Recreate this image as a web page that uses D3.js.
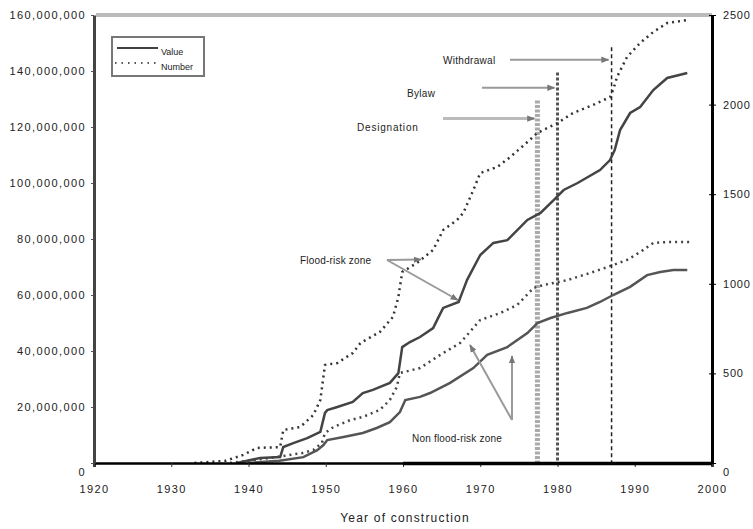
<!DOCTYPE html>
<html>
<head>
<meta charset="utf-8">
<script src="https://cdn.jsdelivr.net/npm/d3@7"></script>
<style>
  body { margin: 0; background: #fff; }
  text { font-family: "Liberation Sans", Arial, sans-serif; fill: #222; }
</style>
</head>
<body>
<script>
// flood-risk zone, number of buildings (right axis)
const floodNumYears = [1933, 1937, 1939.3, 1941.1, 1944.1, 1944.5, 1946.7, 1948.4, 1949.3, 1949.9, 1951.5, 1953.5, 1954.5, 1957, 1958.7, 1959.4, 1959.9, 1961.8, 1963.9, 1965.2, 1967, 1967.8, 1969.1, 1970, 1972.2, 1973.9, 1976.1, 1977.4, 1980, 1982, 1984.6, 1986.8, 1987.2, 1987.7, 1989, 1990.7, 1992.4, 1994.2, 1996.8];
const floodNum = [0, 12, 45, 84, 89, 184, 201, 268, 352, 547, 558, 614, 670, 731, 815, 926, 1066, 1116, 1189, 1300, 1356, 1395, 1523, 1618, 1652, 1708, 1791, 1842, 1897, 1953, 1998, 2042, 2081, 2154, 2266, 2344, 2405, 2455, 2472];

// flood-risk zone, value (left axis, millions)
const floodValYears = [1938.5, 1941.5, 1944.1, 1944.5, 1945.8, 1947.6, 1949.3, 1949.9, 1950.2, 1951.5, 1953.5, 1954.8, 1956.1, 1958.3, 1959.4, 1959.9, 1960.9, 1962.2, 1963.9, 1964.6, 1965.2, 1967.2, 1967.7, 1968.3, 1970, 1971.7, 1973.5, 1976.1, 1977.8, 1979.5, 1980.8, 1982.6, 1985.5, 1986.8, 1987.4, 1988.1, 1989.4, 1990.7, 1992.4, 1994.2, 1996.8];
const floodVal = [0, 1.8, 2.1, 5.7, 7.1, 8.9, 11.1, 17.9, 18.9, 20, 21.8, 25, 26.1, 28.6, 32.1, 41.4, 43.2, 45, 48.2, 52.1, 55.4, 57.5, 61.1, 65.4, 74.3, 78.6, 79.6, 86.8, 89.3, 93.9, 97.5, 100, 104.6, 108.2, 111.8, 118.9, 125, 127.1, 133.2, 137.5, 139.3];

// non flood-risk zone, number (right axis)
const nonNumYears = [1937.6, 1942.8, 1947, 1948.4, 1949.5, 1949.9, 1951, 1953.2, 1954.8, 1957, 1958.3, 1959.2, 1959.6, 1962.2, 1964.8, 1967.4, 1970, 1972.6, 1974.8, 1976.9, 1978.2, 1981.3, 1984.2, 1986.5, 1989, 1990.7, 1992.4, 1994.2, 1997.2];
const nonNum = [0, 28, 56, 73, 112, 167, 201, 240, 257, 296, 352, 424, 502, 530, 603, 670, 798, 837, 882, 977, 993, 1021, 1060, 1094, 1133, 1177, 1228, 1233, 1233];

// non flood-risk zone, value (left axis, millions)
const nonValYears = [1940, 1944, 1947.1, 1948.9, 1949.7, 1950.2, 1952.3, 1954.8, 1956.6, 1958.3, 1959.6, 1960.3, 1962.2, 1963.5, 1966.1, 1969.1, 1970.9, 1973.5, 1976.1, 1977.4, 1979.1, 1981.3, 1983.8, 1985.5, 1987.2, 1989.4, 1991.6, 1993.3, 1995, 1996.8];
const nonVal = [0, 0.8, 2.1, 4.6, 6.4, 8.2, 9.3, 10.7, 12.5, 14.6, 18.2, 22.5, 23.6, 25, 28.6, 33.9, 38.6, 41.4, 46.4, 50, 51.8, 53.6, 55.4, 57.5, 60, 62.9, 67.1, 68.2, 68.9, 68.9];

// policy events
const eventNames = ['Designation', 'Bylaw', 'Withdrawal'];
const eventYears = [1977.4, 1980, 1987];
const eventTops = [129.5, 139.5, 148.5];   // millions, where the vertical line starts
const eventLabelAt = [123, 134, 144];      // millions, height of the pointer

const xTicks = [1920, 1930, 1940, 1950, 1960, 1970, 1980, 1990, 2000];
const leftTicks = [0, 20e6, 40e6, 60e6, 80e6, 100e6, 120e6, 140e6, 160e6];
const rightTicks = [0, 500, 1000, 1500, 2000, 2500];

const width = 753, height = 529;
const svg = d3.select('body').append('svg')
  .attr('width', width)
  .attr('height', height);

const x = d3.scaleLinear().domain([1920, 2000]).range([94, 712]);
const yL = d3.scaleLinear().domain([0, 160e6]).range([463, 15]);
const yR = d3.scaleLinear().domain([0, 2500]).range([463, 15]);

const defs = svg.append('defs');
defs.append('marker')
  .attr('id', 'arrow')
  .attr('viewBox', '0 0 10 10')
  .attr('refX', 9).attr('refY', 5)
  .attr('markerUnits', 'userSpaceOnUse')
  .attr('markerWidth', 8).attr('markerHeight', 8)
  .attr('orient', 'auto')
  .append('path')
  .attr('d', 'M0,1L10,5L0,9Z')
  .attr('fill', '#777');

// top frame line
svg.append('line')
  .attr('x1', x(1920) + 2).attr('x2', x(2000))
  .attr('y1', yL(160e6)).attr('y2', yL(160e6))
  .attr('stroke', '#bbb').attr('stroke-width', 4);

// event lines
const evStyles = [
  { stroke: '#aaa', width: 5, dash: '3,1.5' },
  { stroke: '#555', width: 3, dash: '3,2' },
  { stroke: '#222', width: 1.5, dash: '4,3' }
];
eventYears.forEach((yr, i) => {
  svg.append('line')
    .attr('x1', x(yr)).attr('x2', x(yr))
    .attr('y1', yL(eventTops[i] * 1e6)).attr('y2', yL(0))
    .attr('stroke', evStyles[i].stroke)
    .attr('stroke-width', evStyles[i].width)
    .attr('stroke-dasharray', evStyles[i].dash);
});

// series
const lineL = d3.line().x(d => x(d[0])).y(d => yL(d[1] * 1e6));
const lineR = d3.line().x(d => x(d[0])).y(d => yR(d[1]));

const zip = (a, b) => a.map((v, i) => [v, b[i]]);

svg.append('path').datum(zip(nonValYears, nonVal))
  .attr('d', lineL).attr('fill', 'none')
  .attr('stroke', '#555').attr('stroke-width', 2.5);
svg.append('path').datum(zip(floodValYears, floodVal))
  .attr('d', lineL).attr('fill', 'none')
  .attr('stroke', '#444').attr('stroke-width', 2.5);
svg.append('path').datum(zip(nonNumYears, nonNum))
  .attr('d', lineR).attr('fill', 'none')
  .attr('stroke', '#444').attr('stroke-width', 2.5)
  .attr('stroke-dasharray', '2,4');
svg.append('path').datum(zip(floodNumYears, floodNum))
  .attr('d', lineR).attr('fill', 'none')
  .attr('stroke', '#333').attr('stroke-width', 2.5)
  .attr('stroke-dasharray', '2,4');

// axes
const gx = svg.append('g').attr('transform', `translate(0,${yL(0)})`)
  .call(d3.axisBottom(x).tickValues(xTicks).tickFormat(d3.format('d')).tickSize(4).tickPadding(18));
gx.select('.domain').attr('stroke', '#000').attr('stroke-width', 2.5);
gx.selectAll('.tick line').attr('stroke', '#333');
gx.selectAll('text').attr('font-size', 11).attr('letter-spacing', 1.4);
svg.append('line')
  .attr('x1', x(1960)).attr('x2', x(2000))
  .attr('y1', yL(0) + 0.5).attr('y2', yL(0) + 0.5)
  .attr('stroke', '#000').attr('stroke-width', 3.5);

const gl = svg.append('g').attr('transform', `translate(${x(1920)},0)`)
  .call(d3.axisLeft(yL).tickValues(leftTicks).tickFormat(d3.format(',')).tickSize(3).tickSizeOuter(0).tickPadding(5));
gl.select('.domain').attr('stroke', '#444').attr('stroke-width', 3);
gl.selectAll('.tick line').attr('stroke', '#555');
gl.selectAll('text').attr('font-size', 11).attr('letter-spacing', 1.4);
gl.selectAll('.tick').filter(d => d === 0).select('text').attr('dy', '1.1em');

const gr = svg.append('g').attr('transform', `translate(${x(2000)},0)`)
  .call(d3.axisRight(yR).tickValues(rightTicks).tickFormat(d3.format('d')).tickSize(4).tickSizeOuter(0).tickPadding(7));
gr.select('.domain').attr('stroke', '#000').attr('stroke-width', 3);
gr.selectAll('.tick line').attr('stroke', '#000').attr('x1', -3);
gr.selectAll('text').attr('font-size', 11).attr('letter-spacing', 0.8);
gr.selectAll('.tick').filter(d => d === 0).select('text').attr('dy', '1.1em');

svg.append('text')
  .attr('x', (x(1920) + x(2000)) / 2 + 2).attr('y', 522)
  .attr('text-anchor', 'middle').attr('font-size', 12).attr('letter-spacing', 1.2)
  .text('Year of construction');

// legend
const lg = svg.append('g');
lg.append('rect').attr('x', 112).attr('y', 37).attr('width', 92).attr('height', 39)
  .attr('fill', '#fff').attr('stroke', '#777').attr('stroke-width', 2);
lg.append('line').attr('x1', 117).attr('x2', 158).attr('y1', 48).attr('y2', 48)
  .attr('stroke', '#000').attr('stroke-width', 1.5);
lg.append('line').attr('x1', 115).attr('x2', 158).attr('y1', 63).attr('y2', 63)
  .attr('stroke', '#555').attr('stroke-width', 2).attr('stroke-dasharray', '1.5,5');
lg.append('text').attr('x', 161).attr('y', 55).attr('font-size', 9).text('Value');
lg.append('text').attr('x', 161).attr('y', 70).attr('font-size', 9).text('Number');

// event pointers
const evTextX = [357, 407, 443];
const evArrowX = [443, 482, 510];
eventYears.forEach((yr, i) => {
  const yy = yL(eventLabelAt[i] * 1e6);
  svg.append('line')
    .attr('x1', evArrowX[i]).attr('x2', x(yr) - 3)
    .attr('y1', yy).attr('y2', yy)
    .attr('stroke', i === 0 ? '#bbb' : '#999').attr('stroke-width', i === 0 ? 3 : 2)
    .attr('marker-end', 'url(#arrow)');
  svg.append('text')
    .attr('x', evTextX[i]).attr('y', yy + (i === 0 ? 12 : i === 1 ? 9 : 4))
    .attr('font-size', 10).attr('letter-spacing', i === 0 ? 0.8 : 0.3)
    .text(eventNames[i]);
});

// zone annotations
svg.append('text').attr('x', 300).attr('y', 264).attr('font-size', 10).attr('letter-spacing', 0.2)
  .text('Flood-risk zone');
const fz = [[387, 260], [x(1962.3), yR(1135)], [387, 260], [x(1967.1), yL(57.5e6) - 2]];
svg.append('line').attr('x1', fz[0][0]).attr('y1', fz[0][1]).attr('x2', fz[1][0]).attr('y2', fz[1][1])
  .attr('stroke', '#999').attr('stroke-width', 2).attr('marker-end', 'url(#arrow)');
svg.append('line').attr('x1', fz[2][0]).attr('y1', fz[2][1]).attr('x2', fz[3][0]).attr('y2', fz[3][1])
  .attr('stroke', '#999').attr('stroke-width', 2).attr('marker-end', 'url(#arrow)');

svg.append('text').attr('x', 412).attr('y', 442).attr('font-size', 10).attr('letter-spacing', 0.2)
  .text('Non flood-risk zone');
svg.append('line').attr('x1', 512).attr('y1', 420).attr('x2', 470).attr('y2', 345)
  .attr('stroke', '#999').attr('stroke-width', 2).attr('marker-end', 'url(#arrow)');
svg.append('line').attr('x1', 512).attr('y1', 420).attr('x2', 512).attr('y2', 356)
  .attr('stroke', '#999').attr('stroke-width', 2).attr('marker-end', 'url(#arrow)');
</script>
</body>
</html>
